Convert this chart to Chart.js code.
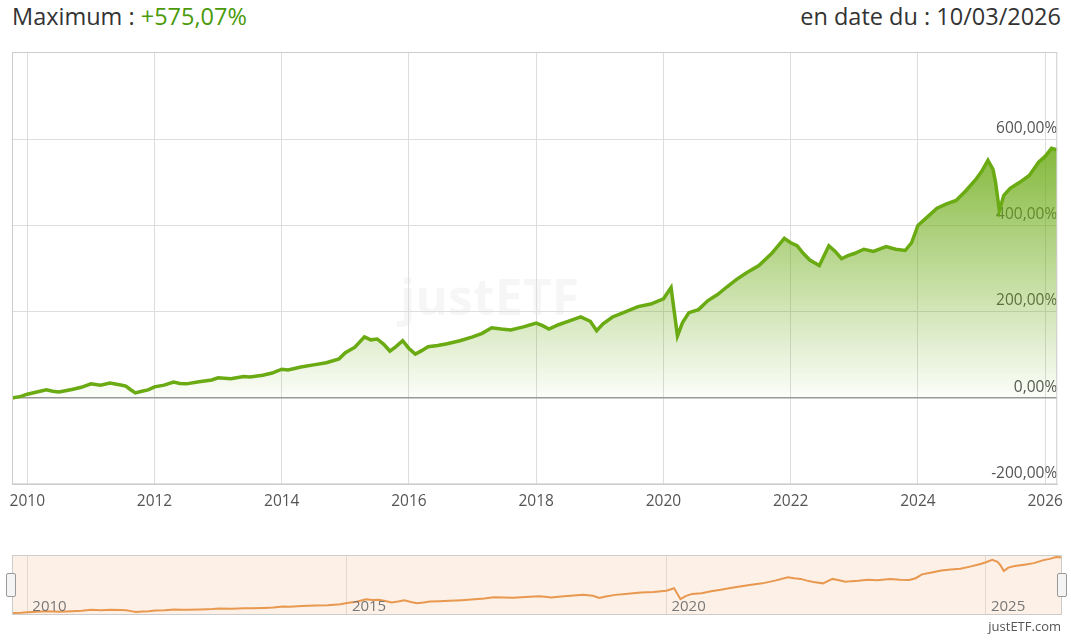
<!DOCTYPE html>
<html><head><meta charset="utf-8">
<script src="https://cdn.jsdelivr.net/npm/chart.js@4"></script>
<style>
body{margin:0;width:1071px;height:642px;background:#fff;font-family:"Open Sans",sans-serif;position:relative;overflow:hidden}
#t1{position:absolute;left:12px;top:0px;font-size:23.5px;color:#333}
#t1 span{color:#4a9a0a}
#t2{position:absolute;right:10px;top:0px;font-size:23.5px;color:#333}
#m{position:absolute;left:0;top:40px;width:1071px;height:479px}
#n{position:absolute;left:0;top:548px;width:1071px;height:72px}
#wm{position:absolute;left:400px;top:262px;font-size:50px;color:rgba(0,0,0,0.035);font-weight:bold}
#cr{position:absolute;right:10px;top:617px;font-size:13px;color:#555}
.h{position:absolute;top:573px;width:8px;height:22px;border:1px solid #999;background:#f4f4f4;border-radius:2px}
</style></head><body>
<div id="t1">Maximum : <span>+575,07%</span></div>
<div id="t2">en date du : 10/03/2026</div>
<div id="wm">justETF</div>
<div id="m"><canvas id="c1"></canvas></div>
<div id="n"><canvas id="c2"></canvas></div>
<div class="h" style="left:6px"></div><div class="h" style="left:1057px"></div>
<div id="cr">justETF.com</div>
<script>
const years=[2009.76,2009.9,2010.0,2010.15,2010.3,2010.4,2010.5,2010.7,2010.85,2011.0,2011.15,2011.3,2011.45,2011.55,2011.62,2011.7,2011.8,2011.9,2012.0,2012.15,2012.3,2012.4,2012.5,2012.7,2012.9,2013.0,2013.2,2013.4,2013.5,2013.7,2013.85,2014.0,2014.1,2014.3,2014.5,2014.7,2014.9,2015.0,2015.15,2015.3,2015.4,2015.5,2015.6,2015.7,2015.8,2015.9,2016.0,2016.1,2016.2,2016.3,2016.45,2016.6,2016.8,2017.0,2017.15,2017.3,2017.45,2017.6,2017.8,2018.0,2018.1,2018.2,2018.35,2018.5,2018.7,2018.85,2018.95,2019.05,2019.2,2019.4,2019.6,2019.8,2020.0,2020.12,2020.17,2020.22,2020.3,2020.4,2020.55,2020.7,2020.85,2021.0,2021.15,2021.3,2021.5,2021.7,2021.9,2022.0,2022.1,2022.2,2022.3,2022.45,2022.6,2022.7,2022.8,2022.9,2023.0,2023.15,2023.3,2023.5,2023.65,2023.8,2023.9,2024.0,2024.15,2024.3,2024.45,2024.6,2024.75,2024.9,2025.0,2025.1,2025.18,2025.22,2025.28,2025.35,2025.45,2025.6,2025.75,2025.9,2026.0,2026.1,2026.19];
const perf=[0,4,9,14,19,16,14,20,25,33,30,35,31,28,20,12,16,19,26,30,37,34,33,38,42,47,45,50,49,53,58,67,65,72,77,82,91,105,118,142,135,137,125,109,120,133,115,102,110,119,122,126,133,142,150,163,160,158,165,174,168,160,170,178,188,178,156,172,188,200,212,218,230,256,200,144,175,198,205,226,240,258,275,290,307,335,370,360,353,335,320,307,353,340,323,330,335,345,340,351,345,342,360,400,420,440,450,458,480,505,525,551,530,500,435,470,486,500,516,547,560,579,575];
const yTicks=[-200,0,200,400,600];
const xTicks=[2010,2012,2014,2016,2018,2020,2022,2024,2026];
const navTicks=[2010,2015,2020,2025];
const pts=years.map((x,i)=>({x,y:perf[i]}));
const fmt=v=>v.toFixed(2).replace('.',',')+'%';
new Chart(document.getElementById('c1'),{type:'line',
data:{datasets:[{data:pts,borderColor:'#6aaa12',borderWidth:3.5,pointRadius:0,tension:0,
fill:{target:{value:0}},
backgroundColor:(ctx)=>{const a=ctx.chart.chartArea;if(!a)return 'rgba(106,170,18,0.3)';const s=ctx.chart.scales.y;
const g=ctx.chart.ctx.createLinearGradient(0,s.getPixelForValue(600),0,s.getPixelForValue(0));
g.addColorStop(0,'rgba(106,170,18,0.85)');g.addColorStop(1,'rgba(106,170,18,0.02)');return g;}}]},
options:{animation:false,responsive:true,maintainAspectRatio:false,
layout:{padding:{left:12,right:9,top:12,bottom:0}},
plugins:{legend:{display:false},tooltip:{enabled:false}},
scales:{x:{type:'linear',min:2009.76,max:2026.19,afterBuildTicks:s=>{s.ticks=xTicks.map(v=>({value:v}))},
grid:{color:'#ddd',drawTicks:false},border:{color:'#ccc'},
ticks:{color:'#555',font:{size:15.5,family:'Open Sans'},padding:8,callback:v=>String(v)}},
y:{position:'right',min:-200,max:802,afterBuildTicks:s=>{s.ticks=yTicks.map(v=>({value:v}))},
grid:{color:c=>c.tick&&c.tick.value===0?'#999':'#ddd',lineWidth:c=>c.tick&&c.tick.value===0?1.5:1,drawTicks:false},border:{display:false},
ticks:{mirror:true,labelOffset:-11,padding:0,color:'#555',font:{size:15.5,family:'Open Sans'},callback:v=>fmt(v)}}}},
plugins:[{id:'frame',afterDraw(c){const a=c.chartArea,x=c.ctx;x.save();x.strokeStyle='#ccc';x.lineWidth=1;x.strokeRect(a.left+.5,a.top+.5,a.width-1,a.height-1);x.restore();}}]
});
new Chart(document.getElementById('c2'),{type:'line',
data:{datasets:[{data:pts,borderColor:'#e8984f',borderWidth:2,pointRadius:0,fill:false}]},
options:{animation:false,responsive:true,maintainAspectRatio:false,
layout:{padding:{left:12,right:9,top:7,bottom:5}},
plugins:{legend:{display:false},tooltip:{enabled:false}},
scales:{x:{type:'linear',min:2009.76,max:2026.19,afterBuildTicks:s=>{s.ticks=navTicks.map(v=>({value:v}))},
grid:{color:'#e6d8cc',drawTicks:false},border:{display:false},
ticks:{display:false}},
y:{display:false,min:-20,max:600}}},
plugins:[{id:'bg',beforeDraw(c){const a=c.chartArea,x=c.ctx;x.save();x.fillStyle='#fdf0e6';x.fillRect(a.left,a.top,a.width,a.height);x.restore();},
afterDraw(c){const a=c.chartArea,x=c.ctx,s=c.scales.x;x.save();x.strokeStyle='#ccc';x.strokeRect(a.left+.5,a.top+.5,a.width-1,a.height-1);
x.fillStyle='#777';x.font='15px "Open Sans"';navTicks.forEach(v=>x.fillText(String(v),s.getPixelForValue(v)+5,a.bottom-4));x.restore();}}]
});
</script></body></html>
